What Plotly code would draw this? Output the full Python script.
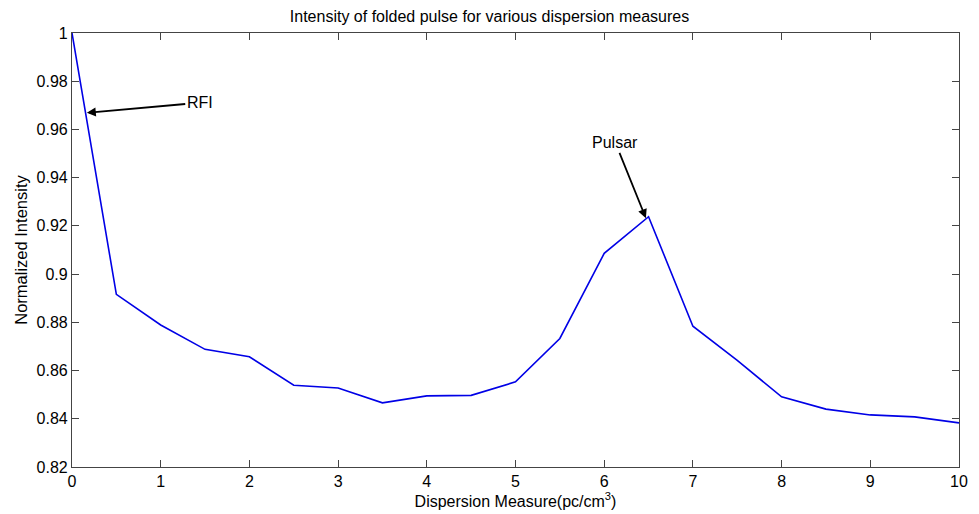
import plotly.graph_objects as go

# Dispersion measure trial values (pc/cm^3) and the folded pulse intensity
dm_values = [0, 0.5, 1, 1.5, 2, 2.5, 3, 3.5, 4, 4.5, 5, 5.5, 6, 6.5, 7, 7.5, 8, 8.5, 9, 9.5, 10]
intensity = [1.0, 0.8916, 0.8789, 0.8688, 0.8657, 0.8539, 0.8528, 0.8466, 0.8495, 0.8497,
             0.8553, 0.8733, 0.9086, 0.9238, 0.8784, 0.8642, 0.8491, 0.8440, 0.8416, 0.8408, 0.8383]

x_ticks = [0, 1, 2, 3, 4, 5, 6, 7, 8, 9, 10]
y_ticks = [0.82, 0.84, 0.86, 0.88, 0.9, 0.92, 0.94, 0.96, 0.98, 1]
y_tick_labels = ["0.82", "0.84", "0.86", "0.88", "0.9", "0.92", "0.94", "0.96", "0.98", "1"]

# Annotated features: (label, label position, arrow target)
features = [
    ("RFI", (1.44, 0.9711), (0.167, 0.9669)),
    ("Pulsar", (6.127, 0.9544), (6.47, 0.9232)),
]

font_family = "Liberation Sans, Arial, sans-serif"
axis_color = "#444444"

fig = go.Figure()
fig.add_trace(go.Scatter(
    x=dm_values, y=intensity, mode="lines",
    line=dict(color="#0000e6", width=1.6),
    showlegend=False, hoverinfo="x+y",
))

for label, (tx, ty), (hx, hy) in features:
    fig.add_annotation(
        x=hx, y=hy, ax=tx, ay=ty, xref="x", yref="y", axref="x", ayref="y",
        text=label, showarrow=True, arrowhead=2, arrowsize=1.0, arrowwidth=1.8,
        arrowcolor="black", standoff=0, startstandoff=0,
        font=dict(family=font_family, size=16, color="black"),
    )

axis_common = dict(
    showline=True, linecolor=axis_color, linewidth=1.2, mirror="ticks",
    ticks="inside", ticklen=7, tickcolor=axis_color, tickwidth=1,
    showgrid=False, zeroline=False,
    tickfont=dict(family=font_family, size=16, color="black"),
)

fig.update_xaxes(
    range=[0, 10], tickvals=x_ticks, **axis_common,
    title=dict(text="Dispersion Measure(pc/cm<sup>3</sup>)", standoff=2,
               font=dict(family=font_family, size=16, color="black")),
)
fig.update_yaxes(
    range=[0.82, 1.0], tickvals=y_ticks, ticktext=y_tick_labels, **axis_common,
    title=dict(text="Normalized Intensity", standoff=4,
               font=dict(family=font_family, size=16.5, color="black")),
)

fig.update_layout(
    width=979, height=514,
    margin=dict(l=72, r=11, t=33, b=47),
    paper_bgcolor="white", plot_bgcolor="white",
    title=dict(text="Intensity of folded pulse for various dispersion measures",
               x=0.5, xanchor="center", y=0.968, yanchor="middle",
               font=dict(family=font_family, size=16, color="black")),
)

fig.write_html("out.html")
